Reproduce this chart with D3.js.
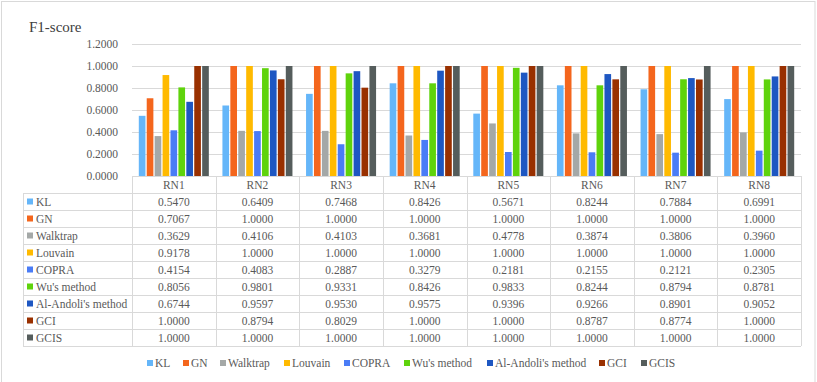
<!DOCTYPE html>
<html>
<head>
<meta charset="utf-8">
<script src="https://cdn.jsdelivr.net/npm/d3@7"></script>
<style>
  body { margin: 0; background: #fff; }
  svg text { font-family: "Liberation Serif", "Times New Roman", serif; }
</style>
</head>
<body>
<svg id="chart" width="817" height="382"></svg>
<script>
var networks = ["RN1", "RN2", "RN3", "RN4", "RN5", "RN6", "RN7", "RN8"];
var methods = ["KL", "GN", "Walktrap", "Louvain", "COPRA", "Wu's method", "Al-Andoli's method", "GCI", "GCIS"];
var colors = ["#65b6f9", "#f4661d", "#a4a8a7", "#ffba00", "#4a7cf6", "#5fd30c", "#1e57c2", "#993000", "#555d5c"];
var yTicks = [0, 0.2, 0.4, 0.6, 0.8, 1.0, 1.2];

var KL       = [0.5470, 0.6409, 0.7468, 0.8426, 0.5671, 0.8244, 0.7884, 0.6991];
var GN       = [0.7067, 1.0000, 1.0000, 1.0000, 1.0000, 1.0000, 1.0000, 1.0000];
var Walktrap = [0.3629, 0.4106, 0.4103, 0.3681, 0.4778, 0.3874, 0.3806, 0.3960];
var Louvain  = [0.9178, 1.0000, 1.0000, 1.0000, 1.0000, 1.0000, 1.0000, 1.0000];
var COPRA    = [0.4154, 0.4083, 0.2887, 0.3279, 0.2181, 0.2155, 0.2121, 0.2305];
var Wu       = [0.8056, 0.9801, 0.9331, 0.8426, 0.9833, 0.8244, 0.8794, 0.8781];
var AlAndoli = [0.6744, 0.9597, 0.9530, 0.9575, 0.9396, 0.9266, 0.8901, 0.9052];
var GCI      = [1.0000, 0.8794, 0.8029, 1.0000, 1.0000, 0.8787, 0.8774, 1.0000];
var GCIS     = [1.0000, 1.0000, 1.0000, 1.0000, 1.0000, 1.0000, 1.0000, 1.0000];

var series = [KL, GN, Walktrap, Louvain, COPRA, Wu, AlAndoli, GCI, GCIS];

var font = "Liberation Serif, Times New Roman, serif";

var svg = d3.select("#chart"),
    margin = {top: 44, left: 132, right: 16},
    plotW = 817 - margin.left - margin.right,
    plotH = 132,
    tableLeft = 23,
    headerH = 17,
    rowH = 17,
    gridColor = "#d9d9d9",
    textColor = "#595959";

// outer frame
svg.append("rect")
    .attr("x", 1.5).attr("y", 1.5)
    .attr("width", 813.5).attr("height", 381)
    .attr("fill", "none")
    .attr("stroke", gridColor);

svg.append("text")
    .attr("x", 29).attr("y", 32)
    .style("font-family", font)
    .style("font-size", "15px")
    .attr("fill", "#404040")
    .text("F1-score");

var x0 = d3.scaleBand().domain(networks).range([0, plotW]).padding(0);
var x1 = d3.scaleBand().domain(methods)
    .range([6.8, x0.bandwidth() - 6.8]).paddingInner(0.16);
var y = d3.scaleLinear().domain([0, 1.2]).range([plotH, 0]);

var g = svg.append("g")
    .attr("transform", "translate(" + margin.left + "," + margin.top + ")");

// gridlines
g.selectAll(".grid")
  .data(yTicks)
  .enter().append("line")
    .attr("x1", 0).attr("x2", plotW)
    .attr("y1", function(d) { return Math.round(y(d)) + 0.5; })
    .attr("y2", function(d) { return Math.round(y(d)) + 0.5; })
    .attr("stroke", gridColor);

var yAxis = g.append("g")
    .call(d3.axisLeft(y).tickValues(yTicks).tickFormat(d3.format(".4f")).tickSize(0).tickPadding(14));
yAxis.select(".domain").remove();
yAxis.selectAll("text")
    .style("font-family", font)
    .style("font-size", "11.5px")
    .attr("fill", textColor);

// bars
var groups = g.selectAll(".grp")
  .data(networks)
  .enter().append("g")
    .attr("transform", function(d) { return "translate(" + x0(d) + ",0)"; });

groups.selectAll("rect")
  .data(function(d, i) { return methods.map(function(m, j) { return {m: m, v: series[j][i], c: colors[j]}; }); })
  .enter().append("rect")
    .attr("x", function(d) { return x1(d.m); })
    .attr("y", function(d) { return y(d.v); })
    .attr("width", x1.bandwidth())
    .attr("height", function(d) { return plotH - y(d.v); })
    .attr("fill", function(d) { return d.c; });

// data table
var t = svg.append("g")
    .attr("transform", "translate(0," + (margin.top + plotH) + ")");
var tableBottom = headerH + rowH * methods.length;

t.selectAll(".hl")
  .data(d3.range(methods.length + 1))
  .enter().append("line")
    .attr("x1", tableLeft).attr("x2", margin.left + plotW)
    .attr("y1", function(i) { return headerH + i * rowH + 0.5; })
    .attr("y2", function(i) { return headerH + i * rowH + 0.5; })
    .attr("stroke", gridColor);

var vx = [margin.left].concat(networks.map(function(n) { return margin.left + x0(n) + x0.bandwidth(); }));
t.selectAll(".vl")
  .data(vx)
  .enter().append("line")
    .attr("x1", function(d) { return Math.round(d) + 0.5; })
    .attr("x2", function(d) { return Math.round(d) + 0.5; })
    .attr("y1", 0).attr("y2", tableBottom)
    .attr("stroke", gridColor);
t.append("line")
    .attr("x1", tableLeft + 0.5).attr("x2", tableLeft + 0.5)
    .attr("y1", headerH).attr("y2", tableBottom)
    .attr("stroke", gridColor);

t.selectAll(".hd")
  .data(networks)
  .enter().append("text")
    .attr("x", function(d) { return margin.left + x0(d) + x0.bandwidth() / 2; })
    .attr("y", headerH / 2 + 4)
    .attr("text-anchor", "middle")
    .style("font-family", font)
    .style("font-size", "11.5px")
    .attr("fill", textColor)
    .text(function(d) { return d; });

var rows = t.selectAll(".row")
  .data(methods)
  .enter().append("g")
    .attr("transform", function(d, i) { return "translate(0," + (headerH + i * rowH) + ")"; });

rows.append("rect")
    .attr("x", 27).attr("y", rowH / 2 - 3)
    .attr("width", 6).attr("height", 6)
    .attr("fill", function(d, i) { return colors[i]; });

rows.append("text")
    .attr("x", 36).attr("y", rowH / 2 + 4)
    .style("font-family", font)
    .style("font-size", "11.5px")
    .attr("fill", textColor)
    .text(function(d) { return d; });

rows.selectAll(".val")
  .data(function(d, i) { return series[i]; })
  .enter().append("text")
    .attr("x", function(d, k) { return margin.left + x0(networks[k]) + x0.bandwidth() / 2; })
    .attr("y", rowH / 2 + 4)
    .attr("text-anchor", "middle")
    .style("font-family", font)
    .style("font-size", "11.5px")
    .attr("fill", textColor)
    .text(function(d) { return d3.format(".4f")(d); });

// legend
var legendX = [147, 183, 220, 284, 344, 404, 487, 599, 641];
var legend = svg.selectAll(".lg")
  .data(methods)
  .enter().append("g")
    .attr("transform", function(d, i) { return "translate(" + legendX[i] + ",363)"; });

legend.append("rect")
    .attr("x", 0).attr("y", -3)
    .attr("width", 6).attr("height", 6)
    .attr("fill", function(d, i) { return colors[i]; });

legend.append("text")
    .attr("x", 8).attr("y", 4)
    .style("font-family", font)
    .style("font-size", "11.5px")
    .attr("fill", textColor)
    .text(function(d) { return d; });
</script>
</body>
</html>
